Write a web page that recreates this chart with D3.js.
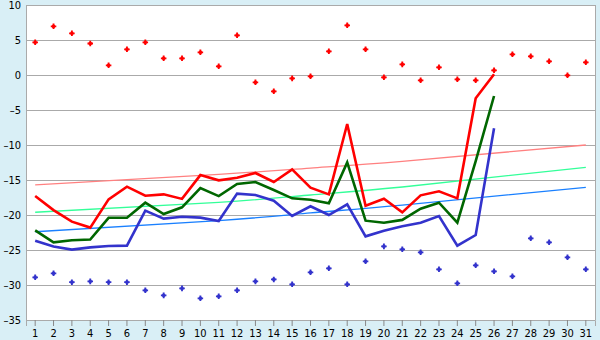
<!DOCTYPE html>
<html><head><meta charset="utf-8">
<script src="https://cdn.jsdelivr.net/npm/d3@7"></script>
<style>html,body{margin:0;padding:0;background:#d9eff6;}svg{display:block;}</style>
</head><body>
<svg id="c" width="600" height="340"></svg>
<script>
const days = d3.range(1, 32);
const yTicks = [10, 5, 0, -5, -10, -15, -20, -25, -30, -35];

const maxPoints = [4.67, 6.95, 5.95, 4.5, 1.38, 3.67, 4.67, 2.38, 2.38, 3.24, 1.24, 5.67, -1.05, -2.33, -0.48, -0.19, 3.38, 7.1, 3.67, -0.33, 1.52, -0.76, 1.1, -0.62, -0.76, 0.67, 2.95, 2.67, 1.95, -0.05, 1.81];
const minPoints = [-28.9, -28.33, -29.6, -29.48, -29.6, -29.6, -30.76, -31.48, -30.48, -31.9, -31.62, -30.76, -29.48, -29.2, -29.9, -28.19, -27.62, -29.9, -26.62, -24.48, -24.9, -25.33, -27.76, -29.76, -27.19, -28.05, -28.76, -23.33, -23.9, -26.05, -27.76];

const redLine = [-17.29, -19.3, -20.95, -21.8, -17.76, -15.95, -17.24, -17.05, -17.7, -14.3, -15.05, -14.67, -14.0, -15.29, -13.48, -16.1, -17.05, -7.0, -18.67, -17.67, -19.62, -17.19, -16.62, -17.62, -3.33, 0.1];
const greenLine = [-22.2, -23.9, -23.6, -23.5, -20.4, -20.4, -18.24, -19.86, -18.9, -16.14, -17.3, -15.57, -15.29, -16.43, -17.62, -17.81, -18.33, -12.48, -20.81, -21.1, -20.7, -19.1, -18.24, -21.1, -12.3, -3.0];
const blueLine = [-23.67, -24.5, -24.95, -24.62, -24.43, -24.38, -19.38, -20.52, -20.24, -20.38, -20.86, -16.95, -17.14, -17.95, -20.14, -18.76, -20.0, -18.48, -23.05, -22.24, -21.62, -21.1, -20.14, -24.38, -22.86, -7.62];

const trendDays = [1, 11, 16, 21, 31];
const redTrend = [-15.71, -14.2, -13.29, -12.34, -10.0];
const greenTrend = [-19.61, -18.19, -17.14, -16.0, -13.19];
const blueTrend = [-22.39, -20.8, -19.7, -18.6, -16.04];

const svg = d3.select("#c");
const L = 26, R = 595, T = 5, B = 320;
const FONT = "'DejaVu Sans Condensed', 'DejaVu Sans', Verdana, sans-serif";
const x = d3.scaleBand().domain(days).range([L, R]);
const xc = d => x(d) + x.bandwidth() / 2;
const y = d3.scaleLinear().domain([-35, 10]).range([B, T]);

svg.append("rect").attr("x", L).attr("y", T).attr("width", R - L).attr("height", B - T).attr("fill", "#fff");

// gridlines
svg.append("g").selectAll("line").data(yTicks).join("line")
  .attr("x1", L).attr("x2", R).attr("y1", d => y(d) + 0.5).attr("y2", d => y(d) + 0.5)
  .attr("stroke", "#aaaaaa").attr("stroke-width", 1);
svg.append("line").attr("x1", R + 0.5).attr("x2", R + 0.5).attr("y1", T).attr("y2", B).attr("stroke", "#aaaaaa");
svg.append("line").attr("x1", L + 0.5).attr("x2", L + 0.5).attr("y1", T).attr("y2", B + 1).attr("stroke", "#aaaaaa");

// y axis
const fmt = d => (d < 0 ? "\u2013" + Math.abs(d) : String(d));
const yAxis = d3.axisLeft(y).tickValues(yTicks).tickFormat(fmt).tickSize(0).tickPadding(5);
const gy = svg.append("g").attr("transform", `translate(${L},0)`).call(yAxis);
gy.select(".domain").remove();
gy.selectAll("text").attr("font-family", FONT).attr("font-size", 11).attr("fill", "#000");

// x axis
const xAxis = d3.axisBottom(x).tickSize(6).tickPadding(3);
const gx = svg.append("g").attr("transform", `translate(0,${B})`).call(xAxis);
gx.select(".domain").attr("stroke", "#aaaaaa");
gx.selectAll(".tick line").attr("stroke", "#888");
gx.selectAll("text").attr("font-family", FONT).attr("font-size", 11).attr("fill", "#000");

// trend lines
const trendGen = d3.line().x(d => xc(d[0])).y(d => y(d[1])).curve(d3.curveNatural);
[[redTrend, "#ff8080"], [greenTrend, "#33ff99"], [blueTrend, "#1a80ff"]].forEach(([vals, col]) => {
  svg.append("path").datum(trendDays.map((d, i) => [d, vals[i]]))
    .attr("d", trendGen).attr("fill", "none").attr("stroke", col).attr("stroke-width", 1.3);
});

// main lines
const lineGen = d3.line().x((d, i) => xc(days[i])).y(d => y(d));
[[redLine, "#ff0000"], [greenLine, "#006600"], [blueLine, "#3333cc"]].forEach(([vals, col]) => {
  svg.append("path").datum(vals).attr("d", lineGen).attr("fill", "none")
    .attr("stroke", col).attr("stroke-width", 2.6).attr("stroke-linejoin", "miter");
});

// markers
const cross = d3.symbol(d3.symbolCross, 17)();
const drawMarks = (vals, col) => {
  const g = svg.append("g").selectAll("g").data(vals).join("g")
    .attr("transform", (d, i) => `translate(${xc(days[i])},${y(d)})`);
  g.append("path").attr("d", cross).attr("fill", col);
  g.append("rect").attr("x", -1.5).attr("y", -1.5).attr("width", 3).attr("height", 3).attr("fill", col);
};
drawMarks(maxPoints, "#ff0000");
drawMarks(minPoints, "#3333cc");
</script>
</body></html>
